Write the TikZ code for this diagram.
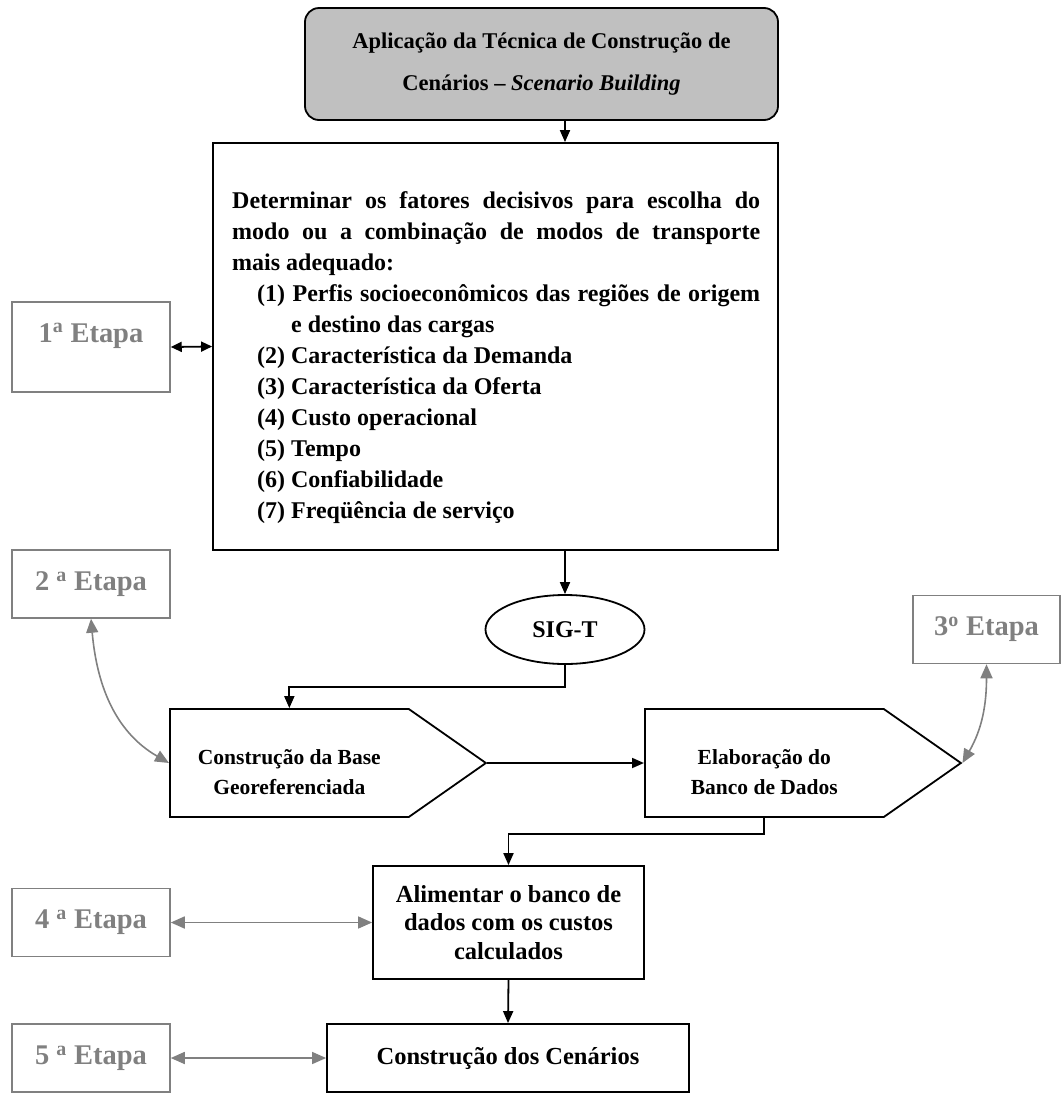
\documentclass[tikz,border=0pt]{standalone}
\usepackage{fontspec}
\setmainfont{Liberation Serif}
\usetikzlibrary{arrows.meta, shapes.geometric, shapes.symbols}

\definecolor{etapagray}{HTML}{808080}
\definecolor{titlegray}{HTML}{C0C0C0}

\tikzset{
  blackbox/.style={draw, line width=1.8pt, align=center, inner sep=0pt,
    font=\bfseries\fontsize{24.5}{28.5}\selectfont},
  pentabox/.style={blackbox, shape=signal, signal to=east, signal pointer angle=70,
    minimum width=316pt, minimum height=108pt, anchor=west,
    font=\bfseries\fontsize{21.5}{30}\selectfont},
  etapa/.style={draw=etapagray, line width=1.5pt, text=etapagray, inner sep=0pt,
    font=\bfseries\fontsize{28.5}{32}\selectfont, minimum width=158pt, minimum height=68pt},
  arrowblk/.style={-{Triangle[length=12pt,width=10pt]}, line width=1.8pt},
  arrowgray/.style={{Triangle[length=14pt,width=12pt]}-{Triangle[length=14pt,width=12pt]},
    line width=1.6pt, draw=etapagray, etapagray},
}

\begin{document}
\begin{tikzpicture}[x=1pt, y=-1pt]
    \useasboundingbox (0,0) rectangle (1062,1093);

    \node[blackbox, rounded corners=14pt, fill=titlegray, minimum width=473pt, minimum height=112pt,
      font=\bfseries\fontsize{22.5}{42}\selectfont] (title) at (541.5,64)
      {Aplicação da Técnica de Construção de\\Cenários – \textit{Scenario Building}};

    \node[blackbox, minimum width=565pt, minimum height=407pt] (decide) at (495.5,346.5) {};
    \node[anchor=north west, inner sep=0pt, text width=528pt, align=justify,
      font=\bfseries\fontsize{24}{31}\selectfont] (decidetext) at (232,191.5)
      {\parindent=0pt \tolerance=10000 \hyphenpenalty=10000
      Determinar os fatores decisivos para escolha do\linebreak
      modo ou a combinação de modos de transporte\linebreak
      mais adequado:\par
      \leftskip=25pt
      \hangindent=34pt \hangafter=1
      (1) Perfis socioeconômicos das regiões de origem\linebreak e destino das cargas\par
      (2) Característica da Demanda\par
      (3) Característica da Oferta\par
      (4) Custo operacional\par
      (5) Tempo\par
      (6) Confiabilidade\par
      (7) Freqüência de serviço\par};

    \node[etapa, text height=20pt, text depth=30pt, minimum height=90pt] (etapa1) at (91,347) {1\textsuperscript{a} Etapa};
    \node[etapa] (etapa2) at (91,584) {2 \textsuperscript{a} Etapa};
    \node[etapa, minimum width=147pt] (etapa3) at (986.5,629.5) {3\textsuperscript{o} Etapa};
    \node[etapa] (etapa4) at (91,922.5) {4 \textsuperscript{a} Etapa};
    \node[etapa] (etapa5) at (91,1058) {5 \textsuperscript{a} Etapa};

    \node[blackbox, ellipse, minimum width=159pt, minimum height=69pt, font=\bfseries\fontsize{24}{28}\selectfont] (sigt) at (565,629.5) {SIG-T};

    \node[pentabox] (base) at (169,763) {\rule{0pt}{34pt}Construção da Base\\Georeferenciada};
    \node[pentabox] (banco) at (644,763) {\rule{0pt}{34pt}Elaboração do\\Banco de Dados};

    \node[blackbox, minimum width=271pt, minimum height=113pt] (alimentar) at (508.5,922.5)
      {Alimentar o banco de\\dados com os custos\\calculados};
    \node[blackbox, minimum width=362pt, minimum height=68pt] (cenarios) at (508,1058) {Construção dos Cenários};

    \draw[arrowblk] (sigt.north |- title.south) -- (sigt.north |- decide.north);
    \draw[arrowblk] (sigt.north |- decide.south) -- (sigt.north);
    \draw[arrowblk] (sigt.south) -- ++(0,22) -| (base.north);
    \draw[arrowblk] (base.east) -- (banco.west);
    \draw[arrowblk] (banco.south) -- ++(0,16) -| (alimentar.north);
    \draw[arrowblk] (alimentar.south) -- (cenarios.north);

    \draw[{Triangle[length=11pt,width=10pt]}-{Triangle[length=11pt,width=10pt]}, line width=1.8pt] (etapa1.east) -- (decide.west);
    \draw[arrowgray] (etapa2.south) to[out=-85,in=150] (base.west);
    \draw[arrowgray] (etapa3.south) to[out=-90,in=60] (banco.east);
    \draw[arrowgray] (etapa4.east) -- (alimentar.west);
    \draw[arrowgray] (etapa5.east) -- (cenarios.west);
  \end{tikzpicture}
\end{document}
